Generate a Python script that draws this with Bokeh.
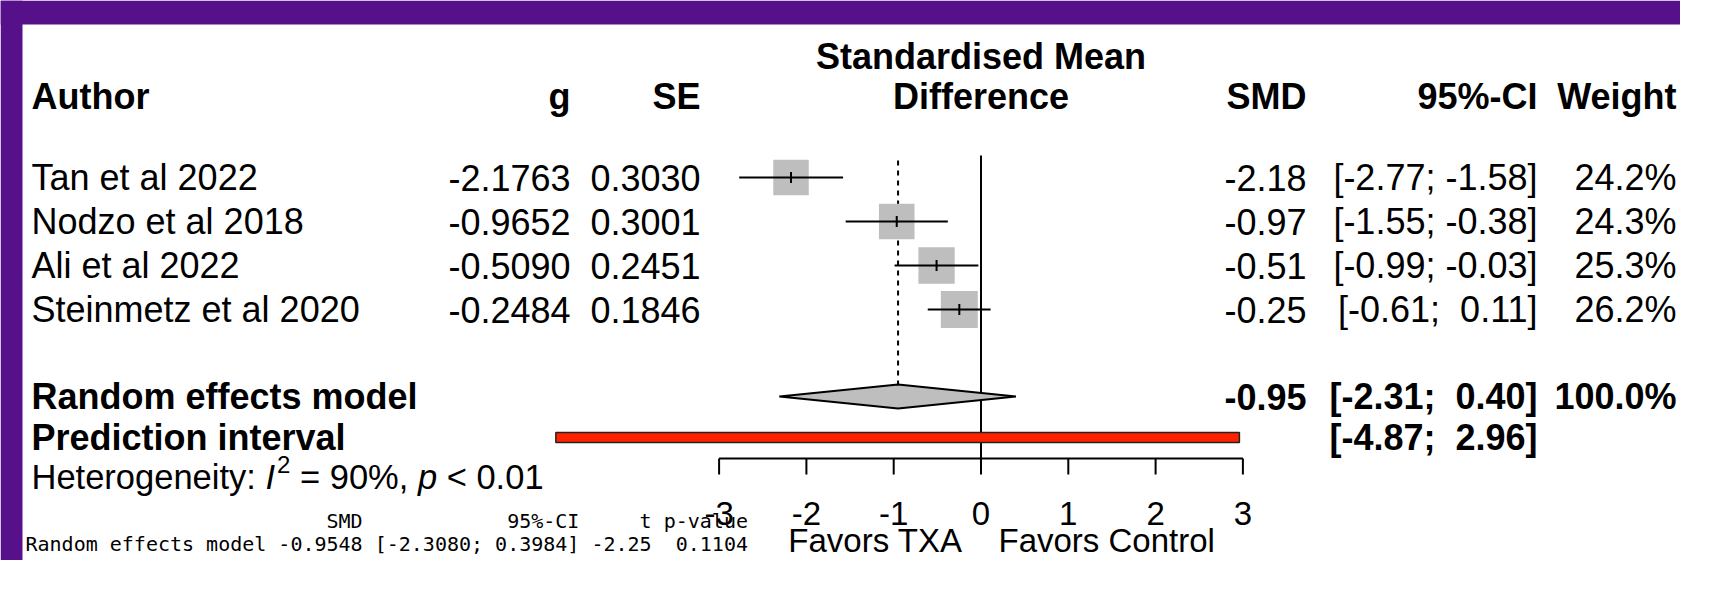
from bokeh.plotting import figure
from bokeh.models import Range1d
from bokeh.core.properties import value
from bokeh.embed import file_html
from bokeh.resources import INLINE
import numpy as np

# ---------------- data ----------------
authors = ["Tan et al 2022", "Nodzo et al 2018", "Ali et al 2022", "Steinmetz et al 2020"]
g_vals = [-2.1763, -0.9652, -0.5090, -0.2484]
se_vals = [0.3030, 0.3001, 0.2451, 0.1846]
smd_vals = [-2.18, -0.97, -0.51, -0.25]
ci_lo = [-2.77, -1.55, -0.99, -0.61]
ci_hi = [-1.58, -0.38, -0.03, 0.11]
weights = [24.2, 24.3, 25.3, 26.2]
re_est, re_lo, re_hi, re_weight = -0.95, -2.31, 0.40, 100.0
pi_lo, pi_hi = -4.87, 2.96
i2_pct = 90
het_p = "< 0.01"
ticks = [-3, -2, -1, 0, 1, 2, 3]
label_left = "Favors TXA"
label_right = "Favors Control"
col_headers = ["Author", "g", "SE", "SMD", "95%-CI", "Weight"]
plot_header = ["Standardised Mean", "Difference"]
re_label = "Random effects model"
pi_label = "Prediction interval"
summ_smd, summ_lo, summ_hi, summ_t, summ_p = -0.9548, -2.3080, 0.3984, -2.25, 0.1104

# ---------------- layout ----------------
W, H = 1680, 560
PX0, PXU = 980.5, 87.3          # pixel of SMD 0, pixels per SMD unit
def X(px):
    return (px - PX0) / PXU

FONT = value("Liberation Sans")
MONO = value("DejaVu Sans Mono")
FS = 36
PURPLE = "#561089"
GREY = "#BEBEBE"

p = figure(width=W, height=H, x_range=Range1d(X(0), X(W)), y_range=Range1d(H, 0),
           output_backend="svg", toolbar_location=None, min_border=0,
           x_axis_location=None, y_axis_location=None)
p.grid.visible = False
p.outline_line_color = None
p.background_fill_color = "white"
p.border_fill_color = "white"

# purple frame (top and left)
p.quad(left=[X(0)], right=[X(W)], top=[0], bottom=[24], fill_color=PURPLE, line_color=None)
p.quad(left=[X(0)], right=[X(22)], top=[0], bottom=[H], fill_color=PURPLE, line_color=None)

def txt(xs, ys, texts, align="left", style="normal", size=FS, font=FONT, baseline="middle"):
    p.text(x=xs, y=ys, text=texts, text_align=align, text_baseline=baseline,
           text_font=font, text_font_size=f"{size}px", text_font_style=style, text_color="black")

def nb(s):
    return s.replace("  ", " \u00a0")

row0, step = 177, 44.0
n = len(authors)
row_y = [row0 + i * step for i in range(n)]
y_re, y_pi, y_het = 396, 437, 476
y_hdr, y_hdr0 = 96, 56

x_author = X(31)
x_g = X(570)
x_se = X(700)
x_smd = X(1306)
x_ci = X(1537)
x_w = X(1676)

# headers
txt([x_author], [y_hdr], [col_headers[0]], style="bold")
txt([x_g], [y_hdr], [col_headers[1]], align="right", style="bold")
txt([x_se], [y_hdr], [col_headers[2]], align="right", style="bold")
txt([x_smd], [y_hdr], [col_headers[3]], align="right", style="bold")
txt([x_ci], [y_hdr], [col_headers[4]], align="right", style="bold")
txt([x_w], [y_hdr], [col_headers[5]], align="right", style="bold")
txt([0, 0], [y_hdr0, y_hdr], plot_header, align="center", style="bold")

# study rows
txt([x_author] * n, row_y, authors)
txt([x_g] * n, row_y, [f"{v:.4f}" for v in g_vals], align="right")
txt([x_se] * n, row_y, [f"{v:.4f}" for v in se_vals], align="right")
txt([x_smd] * n, row_y, [f"{v:.2f}" for v in smd_vals], align="right")
txt([x_ci] * n, row_y, [nb(f"[{lo:5.2f}; {hi:5.2f}]") for lo, hi in zip(ci_lo, ci_hi)], align="right")
txt([x_w] * n, row_y, [f"{w:.1f}%" for w in weights], align="right")

# summary rows
txt([x_author], [y_re], [re_label], style="bold")
txt([x_author], [y_pi], [pi_label], style="bold")
txt([x_smd], [y_re], [f"{re_est:.2f}"], align="right", style="bold")
txt([x_ci], [y_re], [nb(f"[{re_lo:5.2f}; {re_hi:5.2f}]")], align="right", style="bold")
txt([x_w], [y_re], [f"{re_weight:.1f}%"], align="right", style="bold")
txt([x_ci], [y_pi], [nb(f"[{pi_lo:5.2f}; {pi_hi:5.2f}]")], align="right", style="bold")

# heterogeneity line composed of pieces
AW = {'H': 722, 'e': 556, 't': 278, 'r': 333, 'o': 556, 'g': 556, 'n': 556, 'i': 222, 'y': 500,
      ':': 278, ' ': 278, 'I': 278, '2': 556, '=': 584, '9': 556, '0': 556, '%': 889, ',': 278,
      'p': 556, '<': 584, '.': 278, '1': 556}
def wpx(s, size):
    return sum(AW.get(c, 556) for c in s) * size / 1000.0

HFS = 34.5
cx = 31
pieces = [("Heterogeneity:", "normal", HFS, 0), (" ", None, HFS, 0), ("I", "italic", HFS, 0),
          ("2", "normal", 24, -12), (" ", None, HFS, 0), (f"= {i2_pct}%,", "normal", HFS, 0),
          (" ", None, HFS, 0), ("p", "italic", HFS, 0), (" ", None, HFS, 0), (het_p, "normal", HFS, 0)]
for s, st, sz, dy in pieces:
    if st is not None:
        txt([X(cx)], [y_het + dy], [s], style=st, size=sz)
    cx += wpx(s, sz) + (2 if s == "I" else 0)

# reference lines
y_ax = 458
p.segment(x0=[0], y0=[155], x1=[0], y1=[y_ax], line_color="black", line_width=2)
p.segment(x0=[re_est], y0=[160], x1=[re_est], y1=[y_re - 12], line_color="black", line_width=2,
          line_dash="5 5")

# study squares and CIs
sides = [35.5 * np.sqrt(w / 24.2) for w in weights]
p.scatter(x=g_vals, y=row_y, size=sides, marker="square", fill_color=GREY, line_color=None)
p.segment(x0=ci_lo, y0=row_y, x1=ci_hi, y1=row_y, line_color="black", line_width=2)
p.scatter(x=g_vals, y=row_y, size=11, marker="dash", angle=np.pi / 2, line_color="black", line_width=2)

# diamond
p.patch(x=[re_lo, re_est, re_hi, re_est], y=[y_re, y_re - 12, y_re, y_re + 12],
        fill_color=GREY, line_color="black", line_width=2)

# prediction interval
p.quad(left=[pi_lo], right=[pi_hi], top=[y_pi - 5], bottom=[y_pi + 5], fill_color="#FF2200",
       line_color="#222222", line_width=1.5)

# x axis
BFS = 33
p.segment(x0=[min(ticks)], y0=[y_ax], x1=[max(ticks)], y1=[y_ax], line_color="black", line_width=2)
p.segment(x0=ticks, y0=[y_ax] * len(ticks), x1=ticks, y1=[y_ax + 16] * len(ticks),
          line_color="black", line_width=2)
txt(ticks, [513] * len(ticks), [str(t) for t in ticks], align="center", size=BFS)
txt([X(962)], [540], [label_left], align="right", size=BFS)
txt([X(998)], [540], [label_right], align="left", size=BFS)

# console summary (monospace)
mono_hdr = " " * 25 + "SMD" + " " * 12 + "95%-CI" + " " * 5 + "t" + " p-value"
mono_row = (f"{re_label} {summ_smd:.4f} [{summ_lo:.4f}; {summ_hi:.4f}] "
            f"{summ_t:.2f}  {summ_p:.4f}")
txt([X(25), X(25)], [520, 543], [mono_hdr.replace(" ", "\u00a0"), mono_row.replace(" ", "\u00a0")],
    font=MONO, size=20)

open("out.html", "w").write(file_html(p, INLINE))
